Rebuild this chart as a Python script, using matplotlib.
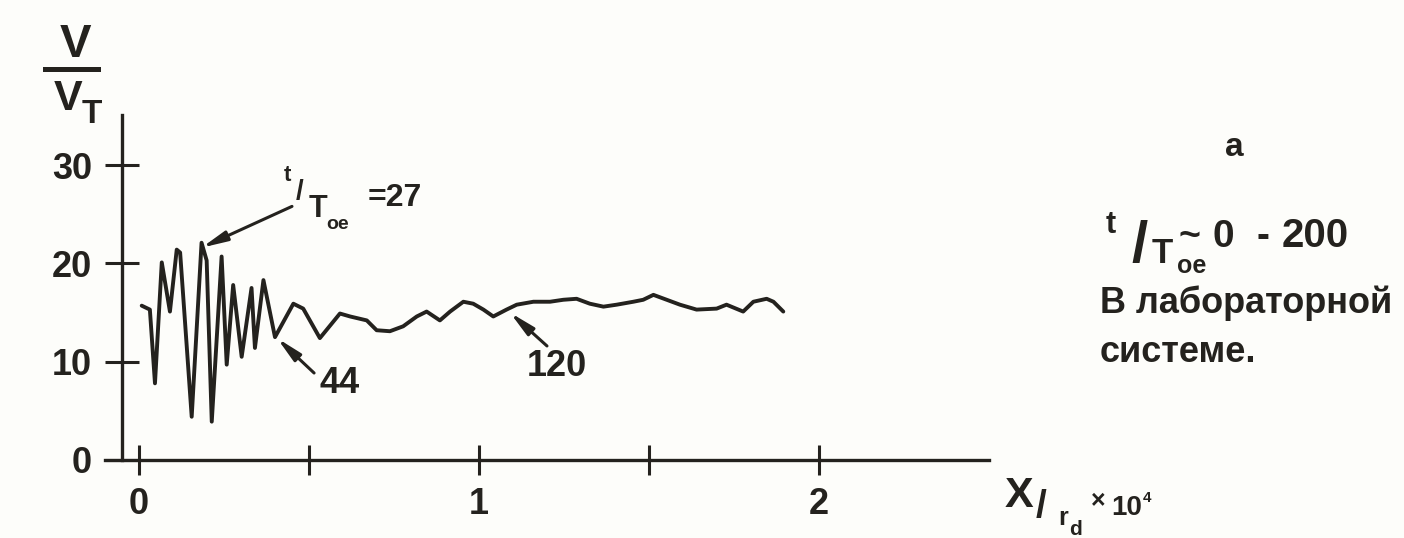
import matplotlib
matplotlib.use("Agg")
import matplotlib.pyplot as plt
from matplotlib.lines import Line2D

W, H, DPI = 1404, 538, 100
INK = "#24221e"
PAPER = "#fdfdfa"

plt.rcParams["font.family"] = ["Liberation Sans", "DejaVu Sans"]
plt.rcParams["font.weight"] = "bold"

# Velocity V/V_T along the path, X/r_d in units of 10^4
x_pos = [0.008, 0.032, 0.047, 0.067, 0.091, 0.111, 0.121, 0.155, 0.184, 0.199,
         0.214, 0.243, 0.258, 0.277, 0.302, 0.331, 0.341, 0.366, 0.400, 0.454,
         0.483, 0.532, 0.591, 0.621, 0.670, 0.699, 0.738, 0.777, 0.817, 0.846,
         0.885, 0.915, 0.954, 0.983, 1.013, 1.042, 1.081, 1.111, 1.160, 1.209,
         1.248, 1.287, 1.326, 1.366, 1.405, 1.454, 1.483, 1.513, 1.552, 1.591,
         1.640, 1.699, 1.728, 1.777, 1.807, 1.846, 1.866, 1.895]
v_ratio = [15.7, 15.3, 7.8, 20.1, 15.1, 21.4, 21.1, 4.4, 22.1, 20.3,
           3.9, 20.7, 9.7, 17.8, 10.5, 17.5, 11.4, 18.3, 12.5, 15.9,
           15.4, 12.4, 14.9, 14.6, 14.2, 13.2, 13.1, 13.6, 14.6, 15.1,
           14.2, 15.1, 16.1, 15.9, 15.3, 14.6, 15.3, 15.8, 16.1, 16.1,
           16.3, 16.4, 15.9, 15.6, 15.8, 16.1, 16.3, 16.8, 16.3, 15.8,
           15.3, 15.4, 15.8, 15.1, 16.1, 16.4, 16.1, 15.1]

y_ticks = [0, 10, 20, 30]
x_major = [0, 1, 2]
x_minor = [0.5, 1.5]

# Time stamps t/T_oe pointed at along the curve
mark_times = ["27", "44", "120"]
mark_tip_x = [0.184, 0.406, 1.091]
mark_tip_v = [21.6, 12.4, 15.0]
mark_tail_x = [0.450, 0.515, 1.200]
mark_tail_v = [25.8, 8.85, 11.6]
mark_text_x = [None, 0.591, 1.229]
mark_text_v = [None, 7.8, 9.5]

fig = plt.figure(figsize=(W / DPI, H / DPI), dpi=DPI, facecolor=PAPER)
ax = fig.add_axes([0, 0, 1, 1])
ax.set_facecolor(PAPER)
ax.set_xlim(-0.4088, 3.7206)
ax.set_ylim(-7.935, 46.795)

ax.plot(x_pos, v_ratio, color=INK, lw=2.8, solid_joinstyle="round",
        solid_capstyle="round")

for s in ["top", "right"]:
    ax.spines[s].set_visible(False)
ax.spines["left"].set_position(("data", -0.05))
ax.spines["left"].set_bounds(0, 35.1)
ax.spines["bottom"].set_position(("data", 0))
ax.spines["bottom"].set_bounds(-0.1, 2.5)
for s in ["left", "bottom"]:
    ax.spines[s].set_linewidth(2.4)
    ax.spines[s].set_color(INK)

ax.set_yticks(y_ticks)
ax.set_yticklabels([str(t) for t in y_ticks])
ax.set_xticks(x_major)
ax.set_xticklabels([str(t) for t in x_major])
ax.set_xticks(x_minor, minor=True)
ax.tick_params(axis="y", direction="inout", length=24, width=2.2, pad=9.5,
               labelsize=26, colors=INK)
ax.tick_params(axis="x", which="both", direction="inout", length=21.6,
               width=2.2, pad=9, labelsize=26, colors=INK)

arrow_style = dict(arrowstyle="-|>,head_length=1.5,head_width=0.3",
                   mutation_scale=10, lw=2.2, color=INK,
                   shrinkA=0, shrinkB=0)
for i, lab in enumerate(mark_times):
    ax.annotate("", xy=(mark_tip_x[i], mark_tip_v[i]),
                xytext=(mark_tail_x[i], mark_tail_v[i]),
                arrowprops=arrow_style)
    if mark_text_x[i] is not None:
        ax.text(mark_text_x[i], mark_text_v[i], lab, fontsize=26, color=INK,
                ha="center", va="center")


def put(s, px, py, size, ha="left"):
    fig.text(px / W, 1 - py / H, s, fontsize=size, color=INK, ha=ha,
             va="baseline")


# t/T_oe = 27 label next to the first arrow
put("t", 284, 181, 16)
put("/", 296, 199, 20)
put("T", 309, 217, 22)
put("oe", 326, 229, 14)
put("=" + mark_times[0], 368, 206, 23)

# y axis label V / V_T
put("V", 75, 57, 34, ha="center")
fig.add_artist(Line2D([45 / W, 98 / W], [1 - 69 / H, 1 - 69 / H],
                      color=INK, lw=3.6))
put("V", 54, 110, 31)
put("T", 82, 123, 24)

# x axis label X / r_d x 10^4
put("X", 1005, 507, 31)
put("/", 1036, 517, 28)
put("r", 1058, 525, 18)
put("d", 1069, 535, 15)
put("\u00d7", 1091, 508, 18)
put("10", 1111, 515, 20)
put("4", 1143, 502, 11)

# panel notes
put("a", 1225, 156, 24)
put("t", 1106, 233, 22)
put("/", 1131, 262, 42)
put("T", 1152, 263, 25)
put("oe", 1177, 273, 18)
put("~", 1179, 247, 27)
put("0", 1212, 247, 28)
put("-", 1256, 247, 28)
put("200", 1282, 247, 29)
put("В лабораторной", 1100, 313, 26)
put("системе.", 1100, 362, 26)

fig.savefig("out.png", dpi=DPI, facecolor=PAPER)
